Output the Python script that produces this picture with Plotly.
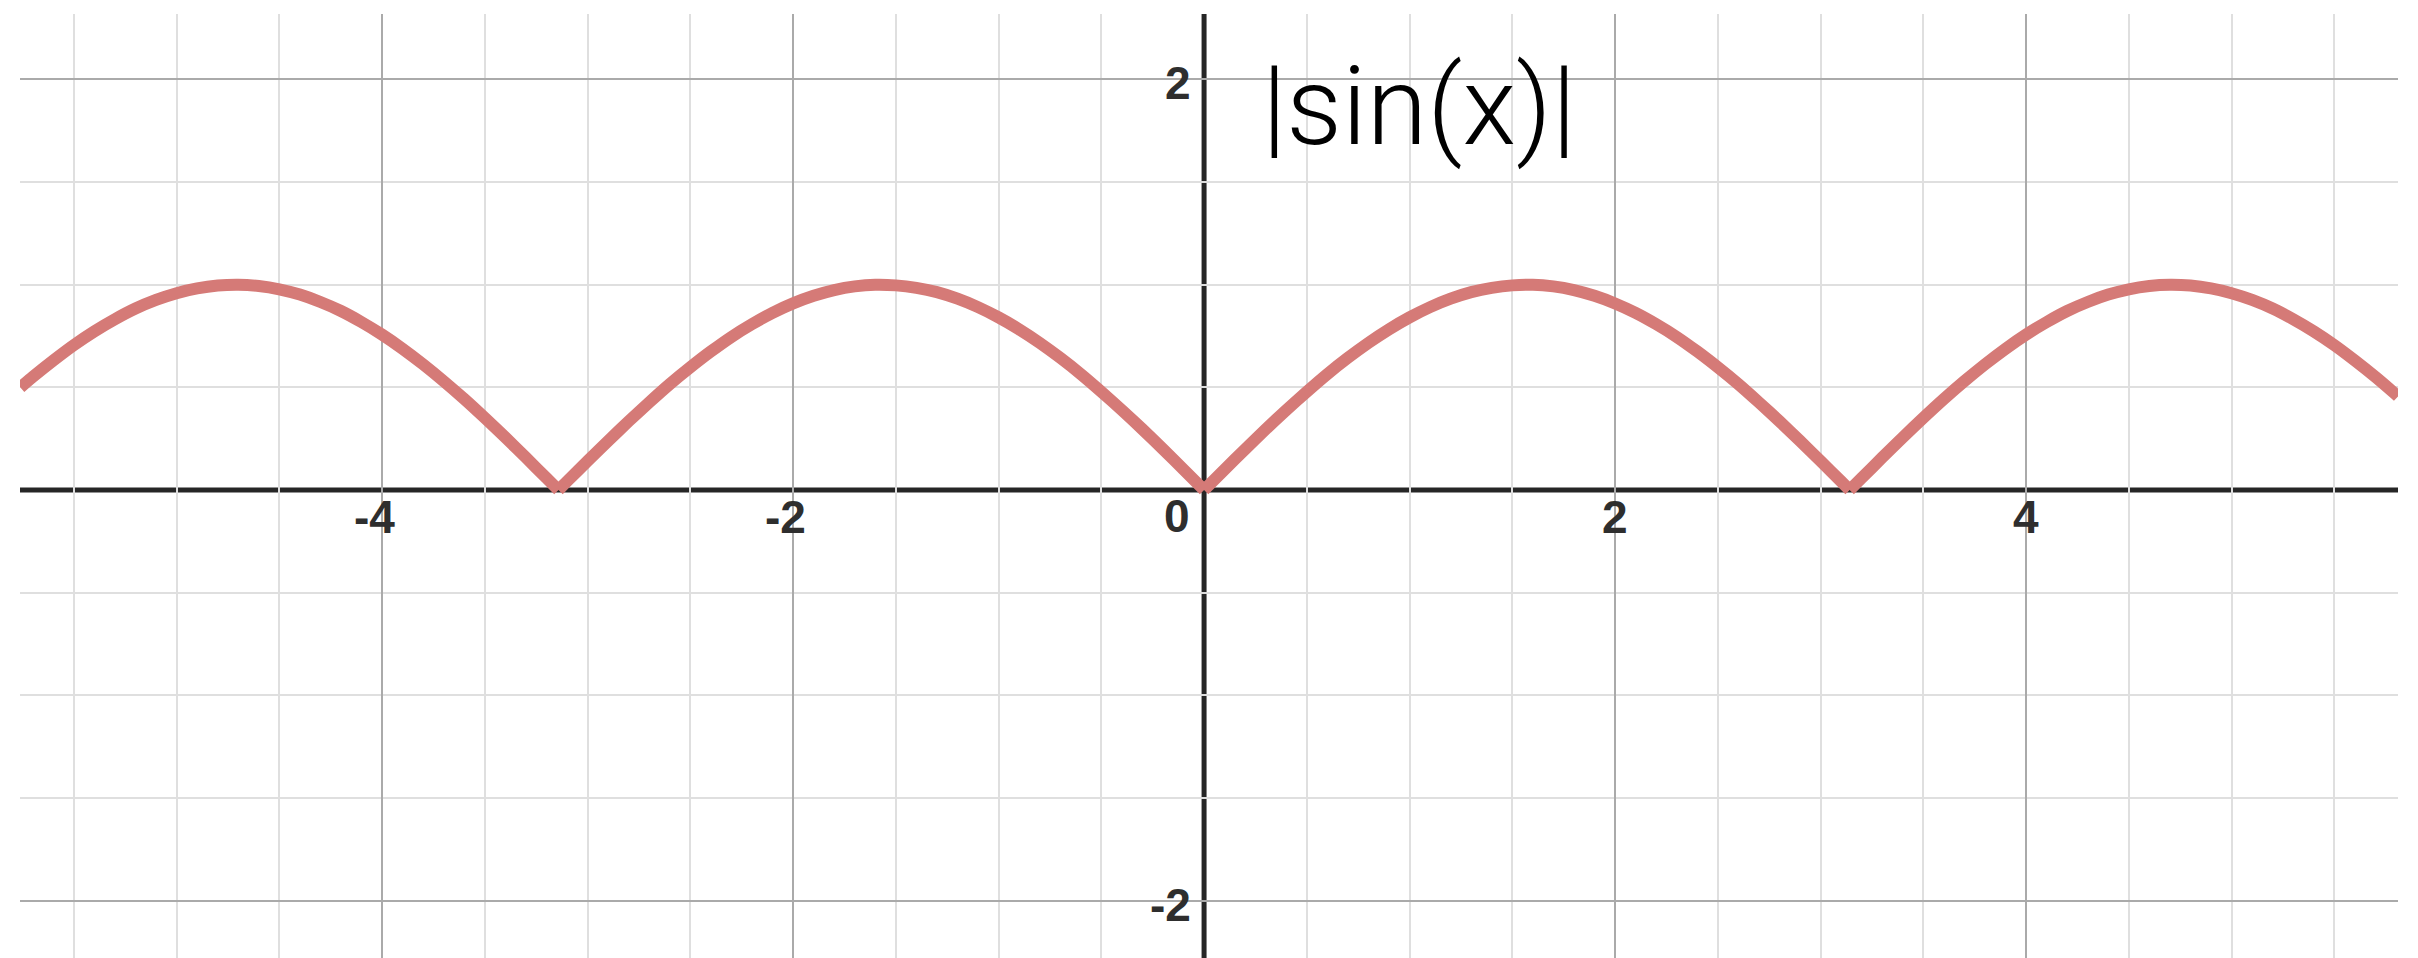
import plotly.graph_objects as go

# Curve samples (|sin(x)|), one arch per list
arch1_x = [-5.76, -5.7, -5.6, -5.5, -5.4, -5.3, -5.2, -5.1, -5.0, -4.9, -4.8, -4.7, -4.6, -4.5,
           -4.4, -4.3, -4.2, -4.1, -4.0, -3.9, -3.8, -3.7, -3.6, -3.5, -3.4, -3.3, -3.2, -3.1416]
arch1_y = [0.500, 0.551, 0.631, 0.706, 0.773, 0.832, 0.884, 0.926, 0.959, 0.982, 0.996, 1.000,
           0.994, 0.978, 0.952, 0.916, 0.872, 0.818, 0.757, 0.688, 0.612, 0.530, 0.443, 0.351,
           0.256, 0.158, 0.058, 0.000]
arch2_x = [-3.1416, -3.1, -3.0, -2.9, -2.8, -2.7, -2.6, -2.5, -2.4, -2.3, -2.2, -2.1, -2.0, -1.9,
           -1.8, -1.7, -1.6, -1.5, -1.4, -1.3, -1.2, -1.1, -1.0, -0.9, -0.8, -0.7, -0.6, -0.5,
           -0.4, -0.3, -0.2, -0.1, 0.0]
arch2_y = [0.000, 0.042, 0.141, 0.239, 0.335, 0.427, 0.516, 0.598, 0.675, 0.746, 0.808, 0.863,
           0.909, 0.946, 0.974, 0.992, 1.000, 0.997, 0.985, 0.964, 0.932, 0.891, 0.841, 0.783,
           0.717, 0.644, 0.565, 0.479, 0.389, 0.296, 0.199, 0.100, 0.000]
arch3_x = [0.0, 0.1, 0.2, 0.3, 0.4, 0.5, 0.6, 0.7, 0.8, 0.9, 1.0, 1.1, 1.2, 1.3, 1.4, 1.5, 1.6,
           1.7, 1.8, 1.9, 2.0, 2.1, 2.2, 2.3, 2.4, 2.5, 2.6, 2.7, 2.8, 2.9, 3.0, 3.1, 3.1416]
arch3_y = [0.000, 0.100, 0.199, 0.296, 0.389, 0.479, 0.565, 0.644, 0.717, 0.783, 0.841, 0.891,
           0.932, 0.964, 0.985, 0.997, 1.000, 0.992, 0.974, 0.946, 0.909, 0.863, 0.808, 0.746,
           0.675, 0.598, 0.516, 0.427, 0.335, 0.239, 0.141, 0.042, 0.000]
arch4_x = [3.1416, 3.2, 3.3, 3.4, 3.5, 3.6, 3.7, 3.8, 3.9, 4.0, 4.1, 4.2, 4.3, 4.4, 4.5, 4.6,
           4.7, 4.8, 4.9, 5.0, 5.1, 5.2, 5.3, 5.4, 5.5, 5.6, 5.7, 5.8, 5.81]
arch4_y = [0.000, 0.058, 0.158, 0.256, 0.351, 0.443, 0.530, 0.612, 0.688, 0.757, 0.818, 0.872,
           0.916, 0.952, 0.978, 0.994, 1.000, 0.996, 0.982, 0.959, 0.926, 0.884, 0.832, 0.773,
           0.706, 0.631, 0.551, 0.465, 0.456]

x_ticks = [-4, -2, 0, 2, 4]
x_tick_labels = ["-4", "-2", "0", "2", "4"]
y_ticks = [-2, 2]
y_tick_labels = ["-2", "2"]
title_text = "|sin(x)|"

x_range = [-5.762, 5.81]
y_range = [-2.28, 2.319]

arches = [(arch1_x, arch1_y), (arch2_x, arch2_y), (arch3_x, arch3_y), (arch4_x, arch4_y)]

curve_color = "#d57a77"
tick_font = dict(family="Liberation Sans, Arial, sans-serif", size=46, color="#2e2e2e", weight="bold")

fig = go.Figure()
for ax, ay in arches:
    fig.add_trace(go.Scatter(
        x=ax, y=ay, mode="lines",
        line=dict(color=curve_color, width=12, shape="spline", smoothing=0.6, simplify=False),
        hoverinfo="skip", showlegend=False,
    ))

# minor grid every 0.5, skipping the origin (drawn by the axis line) and the major lines
minor_vals = [k * 0.5 for k in range(-12, 13) if k % 4 != 0]

common = dict(
    showgrid=True, gridcolor="#aaaaaa", gridwidth=2,
    minor=dict(tickmode="array", tickvals=minor_vals, showgrid=True,
               gridcolor="#dfdfdf", gridwidth=2, ticks=""),
    zeroline=False, showline=False, ticks="", showticklabels=False, fixedrange=True,
)
fig.update_xaxes(range=x_range, tickmode="array", tickvals=[-4, -2, 2, 4], **common)
fig.update_yaxes(range=y_range, tickmode="array", tickvals=y_ticks, **common)

# axis lines through the origin
fig.add_shape(type="line", xref="paper", yref="y", x0=0, x1=1, y0=0, y1=0,
              line=dict(color="#262626", width=5), layer="between")
fig.add_shape(type="line", xref="x", yref="paper", x0=0, x1=0, y0=0, y1=1,
              line=dict(color="#262626", width=5), layer="between")

# tick labels placed along the axes
for v, t in zip(x_ticks, x_tick_labels):
    if v == 0:
        fig.add_annotation(x=0, y=0, text=t, showarrow=False, xanchor="right", yanchor="middle",
                           xshift=-12, yshift=-26, font=tick_font)
    else:
        fig.add_annotation(x=v, y=0, text=t, showarrow=False, xanchor="center", yanchor="middle",
                           xshift=(-8 if v < 0 else 0), yshift=-27, font=tick_font)
for v, t in zip(y_ticks, y_tick_labels):
    fig.add_annotation(x=0, y=v, text=t, showarrow=False, xanchor="right", yanchor="middle",
                       xshift=-11, yshift=-4, font=tick_font)

fig.add_annotation(x=0.27, y=1.87, xref="x", yref="y", text=title_text, showarrow=False,
                   xanchor="left", yanchor="middle",
                   font=dict(family="Roboto, Liberation Sans, Arial, sans-serif",
                             size=110, weight=300, color="#000000"))

fig.update_layout(
    width=2410, height=950,
    margin=dict(l=12, r=20, t=6, b=0, pad=0),
    paper_bgcolor="white", plot_bgcolor="white",
    showlegend=False,
)

fig.write_html("out.html", config={"displayModeBar": False})
